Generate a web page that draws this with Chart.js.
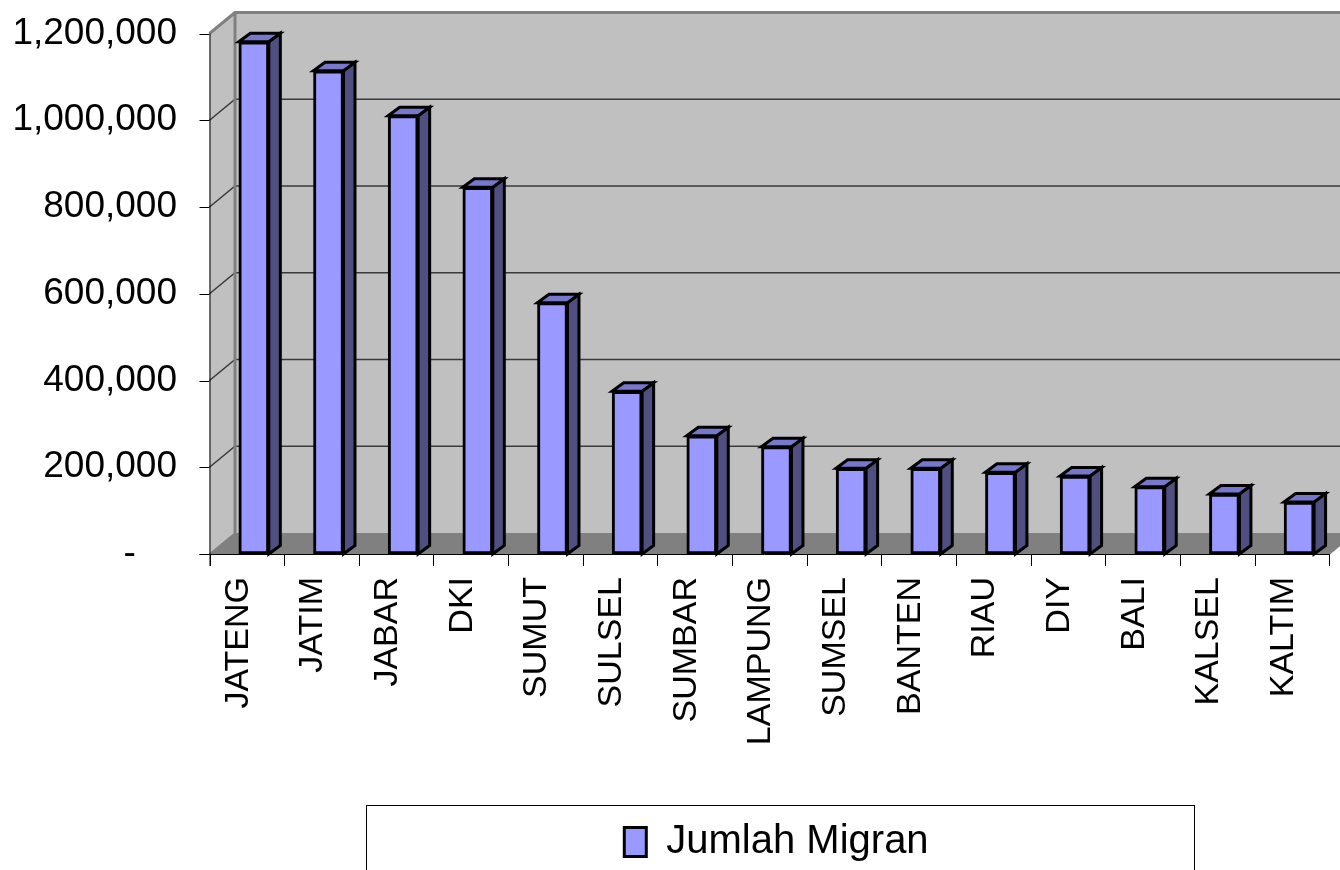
<!DOCTYPE html>
<html>
<head>
<meta charset="utf-8">
<script src="https://cdn.jsdelivr.net/npm/chart.js@4.4.1/dist/chart.umd.min.js"></script>
<style>
  html, body { margin: 0; padding: 0; background: #ffffff; }
  #wrap { width: 1340px; height: 870px; }
</style>
</head>
<body>
<div id="wrap"><canvas id="c" width="1340" height="870"></canvas></div>
<script>
// ---- data ----
const categories = ["JATENG", "JATIM", "JABAR", "DKI", "SUMUT", "SULSEL", "SUMBAR", "LAMPUNG", "SUMSEL", "BANTEN", "RIAU", "DIY", "BALI", "KALSEL", "KALTIM"];
const migrantValues = [1181000, 1114000, 1010500, 845400, 579400, 375100, 272700, 247400, 197600, 197600, 188400, 179800, 155200, 138300, 119900];
const seriesName = "Jumlah Migran";
const yTickMin = 0;
const yTickMax = 1200000;
const yTickStep = 200000;

// ---- styling constants ----
const FRONT = '#9999FF';
const SIDE = '#4F4F80';
const TOP = '#7777CC';
const WALL = '#C0C0C0';
const FLOOR = '#808080';
const EDGE = '#808080';
const DX = 25.5, DY = -21;      // wall depth offsets
const BDX = 11.5, BDY = -8.5;   // bar depth offsets
const FRONT_SHIFT = 7;          // front axis sits left of chart area

const threeD = {
  id: 'threeD',
  beforeDatasetsDraw(chart) {
    const ctx = chart.ctx;
    const ca = chart.chartArea;
    const ys = chart.scales.y;
    const n = categories.length;
    const cw = (ca.right - ca.left) / n;
    const fl = ca.left - FRONT_SHIFT;
    const fr = fl + n * cw;
    const y0 = ys.getPixelForValue(yTickMin);
    const yt = ys.getPixelForValue(yTickMax);
    const W = chart.width;
    ctx.save();
    // back wall
    ctx.fillStyle = WALL;
    ctx.fillRect(fl + DX, yt + DY, W - (fl + DX), (y0 + DY) - (yt + DY));
    // left wall
    ctx.beginPath();
    ctx.moveTo(fl, yt); ctx.lineTo(fl + DX, yt + DY); ctx.lineTo(fl + DX, y0 + DY); ctx.lineTo(fl, y0);
    ctx.closePath(); ctx.fill();
    // floor
    ctx.fillStyle = FLOOR;
    ctx.beginPath();
    ctx.moveTo(fl, y0); ctx.lineTo(fl + DX, y0 + DY); ctx.lineTo(fr + DX, y0 + DY); ctx.lineTo(fr, y0);
    ctx.closePath(); ctx.fill();
    // gridlines
    ctx.lineWidth = 1.5;
    ctx.strokeStyle = '#3a3a3a';
    for (let v = yTickMin + yTickStep; v < yTickMax; v += yTickStep) {
      const y = ys.getPixelForValue(v);
      ctx.beginPath();
      ctx.moveTo(fl, y); ctx.lineTo(fl + DX, y + DY); ctx.lineTo(W, y + DY);
      ctx.stroke();
    }
    // wall edges
    ctx.strokeStyle = EDGE;
    ctx.lineWidth = 3;
    ctx.beginPath();
    ctx.moveTo(fl, yt); ctx.lineTo(fl + DX, yt + DY); ctx.lineTo(W, yt + DY);
    ctx.moveTo(fl + DX, yt + DY); ctx.lineTo(fl + DX, y0 + DY);
    ctx.stroke();
    ctx.lineWidth = 1.5;
    ctx.beginPath();
    ctx.moveTo(fl, y0); ctx.lineTo(fl + DX, y0 + DY);
    ctx.moveTo(fr, y0); ctx.lineTo(fr + DX, y0 + DY);
    ctx.stroke();
    // axes (front)
    ctx.strokeStyle = '#000';
    ctx.lineWidth = 1;
    ctx.beginPath();
    ctx.moveTo(fl + 0.5, yt); ctx.lineTo(fl + 0.5, y0 + 12);
    ctx.moveTo(fl - 10, Math.round(y0) + 0.5); ctx.lineTo(fr, Math.round(y0) + 0.5);
    for (let v = yTickMin; v <= yTickMax; v += yTickStep) {
      const y = Math.round(ys.getPixelForValue(v)) + 0.5;
      ctx.moveTo(fl - 10, y); ctx.lineTo(fl, y);
    }
    for (let k = 0; k <= n; k++) {
      const x = Math.round(fl + k * cw) + 0.5;
      ctx.moveTo(x, y0); ctx.lineTo(x, y0 + 12);
    }
    ctx.stroke();
    // bar depth faces
    const meta = chart.getDatasetMeta(0);
    ctx.lineWidth = 3;
    ctx.lineJoin = 'miter';
    ctx.strokeStyle = '#000';
    meta.data.forEach(bar => {
      const p = bar.getProps(['x', 'y', 'base', 'width'], true);
      const l = p.x - p.width / 2, r = p.x + p.width / 2;
      // side
      ctx.fillStyle = SIDE;
      ctx.beginPath();
      ctx.moveTo(r, p.y); ctx.lineTo(r + BDX, p.y + BDY); ctx.lineTo(r + BDX, p.base + BDY); ctx.lineTo(r, p.base);
      ctx.closePath(); ctx.fill(); ctx.stroke();
      // top
      ctx.fillStyle = TOP;
      ctx.beginPath();
      ctx.moveTo(l, p.y); ctx.lineTo(l + BDX, p.y + BDY); ctx.lineTo(r + BDX, p.y + BDY); ctx.lineTo(r, p.y);
      ctx.closePath(); ctx.fill(); ctx.stroke();
    });
    ctx.restore();
  },
  afterDraw(chart) {
    const ctx = chart.ctx;
    const ca = chart.chartArea;
    const cx = (ca.left + ca.right) / 2 + 3.5;
    ctx.save();
    ctx.strokeStyle = '#000';
    ctx.lineWidth = 1;
    ctx.strokeRect(Math.round(cx - 414) + 0.5, 805.5, 828, 120);
    ctx.restore();
  }
};

new Chart(document.getElementById('c'), {
  type: 'bar',
  data: {
    labels: categories,
    datasets: [{
      label: seriesName,
      data: migrantValues,
      backgroundColor: FRONT,
      borderColor: '#000',
      borderWidth: 3,
      borderSkipped: false,
      barThickness: 30,
    }]
  },
  options: {
    responsive: false,
    animation: false,
    layout: { padding: { top: 33.5, right: 3.5, left: 0, bottom: 0 } },
    scales: {
      x: {
        type: 'category',
        grid: { display: false, drawTicks: true, tickLength: 23 },
        border: { display: false },
        ticks: {
          autoSkip: false,
          minRotation: 90,
          maxRotation: 90,
          padding: 0,
          labelOffset: -15.5,
          color: '#000',
          font: { family: "'Liberation Sans', Arial, sans-serif", size: 34 }
        },
        afterFit(scale) { scale.height = 268; }
      },
      y: {
        min: yTickMin,
        max: yTickMax,
        grid: { display: false, drawTicks: true, tickLength: 39.5 },
        border: { display: false },
        ticks: {
          stepSize: yTickStep,
          padding: 0,
          color: '#000',
          font: { family: "'Liberation Sans', Arial, sans-serif", size: 37 },
          callback: (v) => v === 0 ? '-\u2007\u2007' : Number(v).toLocaleString('en-US')
        },
        afterFit(scale) { scale.width = 216.5; }
      }
    },
    plugins: {
      legend: {
        display: true,
        position: 'bottom',
        fullSize: false,
        maxHeight: 48,
        labels: {
          boxWidth: 22,
          boxHeight: 29,
          padding: 0,
          color: '#000',
          font: { family: "'Liberation Sans', Arial, sans-serif", size: 40 }
        }
      },
      tooltip: { enabled: false }
    }
  },
  plugins: [threeD]
});
</script>
</body>
</html>
